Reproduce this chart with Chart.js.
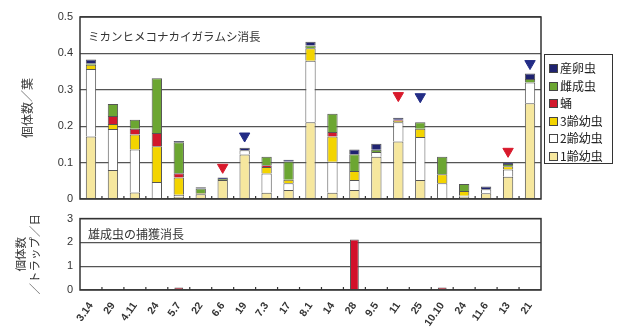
<!DOCTYPE html>
<html>
<head>
<meta charset="utf-8">
<script src="https://cdn.jsdelivr.net/npm/chart.js@4.4.0/dist/chart.umd.min.js"></script>
<style>
  body { margin: 0; background: #fff; }
  #wrap { position: relative; width: 617px; height: 328px; }
  #top { position: absolute; left: 0; top: 0; }
  #bottom { position: absolute; left: 0; top: 205px; }
  #legend {
    position: absolute; left: 544px; top: 54px; width: 69px; height: 110px;
    border: 1px solid #333; box-sizing: border-box; padding: 4px 0 0 4px;
    font: 12px "Noto Sans CJK JP", sans-serif; color: #222;
  }
  #legend div { height: 17.5px; line-height: 17.5px; white-space: nowrap; }
  #legend span {
    display: inline-block; width: 7px; height: 7px; border: 1px solid #444;
    margin-right: 2px; vertical-align: 0px;
  }
</style>
</head>
<body>
<div id="wrap">
  <canvas id="top" width="617" height="214"></canvas>
  <canvas id="bottom" width="617" height="123"></canvas>
  <div id="legend"></div>
</div>
<script>
// survey dates
let dates = ["3.14", "29", "4.11", "24", "5.7", "22", "6.6", "19", "7.3", "17", "8.1",
             "14", "28", "9.5", "11", "25", "10.10", "24", "11.6", "13", "21"];

// individuals per leaf, by stage
let instar1 = [0.172, 0.08, 0.018, 0, 0.006, 0.013, 0.052, 0.122, 0.017, 0.025, 0.211,
               0.017, 0.025, 0.116, 0.158, 0.052, 0.003, 0.006, 0.016, 0.061, 0.263];
let instar2 = [0.185, 0.112, 0.118, 0.047, 0.006, 0, 0, 0.012, 0.053, 0.018, 0.169,
               0.085, 0.027, 0.013, 0.053, 0.118, 0.04, 0.003, 0.011, 0.02, 0.057];
let instar3 = [0.012, 0.014, 0.041, 0.098, 0.047, 0.003, 0, 0, 0.018, 0.01, 0.034,
               0.07, 0.025, 0, 0.004, 0.023, 0.025, 0.013, 0, 0.009, 0];
let pupa = [0, 0.022, 0.016, 0.036, 0.012, 0, 0, 0, 0.005, 0, 0,
            0.012, 0, 0, 0.003, 0, 0, 0, 0, 0, 0];
let female = [0.004, 0.033, 0.025, 0.151, 0.085, 0.013, 0.003, 0, 0.023, 0.05, 0.008,
              0.05, 0.046, 0.006, 0, 0.018, 0.048, 0.019, 0, 0.006, 0.01];
let laying = [0.01, 0, 0, 0, 0.003, 0.003, 0.004, 0.007, 0, 0.005, 0.01,
              0, 0.013, 0.017, 0.005, 0, 0, 0, 0.007, 0.005, 0.015];

// triangle markers
let redMarks = [null, null, null, null, null, null, 0.087, null, null, null, null,
                null, null, null, 0.284, null, null, null, null, 0.131, null];
let blueMarks = [null, null, null, null, null, null, null, 0.173, null, null, null,
                 null, null, null, null, 0.281, null, null, null, null, 0.372];

// males per trap per day
let maleTrap = [0, 0, 0, 0, 0.1, 0, 0, 0, 0, 0, 0,
                0, 2.12, 0, 0, 0, 0.1, 0, 0, 0, 0];

let topTicks = [0, 0.1, 0.2, 0.3, 0.4, 0.5];
let bottomTicks = [0, 1, 2, 3];

const numFont = { family: '"Liberation Sans", Arial, sans-serif', size: 11 };
const jpFont = { family: '"Noto Sans CJK JP", sans-serif', size: 12 };

// frame, inward ticks and the caption inside the plot
const frame = {
  id: 'frame',
  afterDraw(chart, args, opts) {
    const { ctx, chartArea: a } = chart;
    const x = chart.scales.x;
    ctx.save();
    ctx.strokeStyle = '#333';
    ctx.lineWidth = 1.5;
    ctx.strokeRect(a.left, a.top, a.right - a.left, a.bottom - a.top);
    ctx.lineWidth = 1.2;
    ctx.beginPath();
    for (let i = 1; i < dates.length; i++) {
      const px = (x.getPixelForValue(i - 1) + x.getPixelForValue(i)) / 2;
      ctx.moveTo(px, a.bottom);
      ctx.lineTo(px, a.bottom - 3);
    }
    ctx.stroke();
    ctx.fillStyle = '#333';
    ctx.font = opts.font;
    ctx.textBaseline = 'middle';
    ctx.fillText(opts.text, a.left + 8, a.top + opts.dy);
    ctx.restore();
  }
};

function seg(label, data, color) {
  return {
    label: label,
    data: data,
    backgroundColor: color,
    borderColor: '#555',
    borderWidth: 1,
    barPercentage: 0.47,
    categoryPercentage: 1,
    stack: 'bugs'
  };
}

let stages = [
  seg('1齢幼虫', instar1, '#F6E79E'),
  seg('2齢幼虫', instar2, '#FFFFFF'),
  seg('3齢幼虫', instar3, '#F3D400'),
  seg('蛹', pupa, '#D2182C'),
  seg('雌成虫', female, '#6CA632'),
  seg('産卵虫', laying, '#1F2370')
];

function marks(data, color, key) {
  return {
    type: 'line',
    data: data,
    showLine: false,
    pointStyle: 'triangle',
    rotation: 180,
    pointRadius: 6,
    pointBackgroundColor: color,
    pointBorderColor: color,
    stack: key
  };
}

let topChart = new Chart(document.getElementById('top'), {
  type: 'bar',
  data: {
    labels: dates,
    datasets: stages.concat([
      marks(redMarks, '#D8192B', 'red'),
      marks(blueMarks, '#232C86', 'blue')
    ])
  },
  options: {
    responsive: false,
    animation: false,
    layout: { padding: { top: 17, right: 76, left: 0, bottom: 0 } },
    plugins: {
      legend: { display: false },
      tooltip: { enabled: false },
      frame: { text: 'ミカンヒメコナカイガラムシ消長', dy: 20, font: '11.5px "Noto Sans CJK JP", sans-serif' }
    },
    scales: {
      x: {
        stacked: true,
        ticks: { display: false },
        grid: { display: false },
        border: { display: false },
        afterFit: (s) => { s.height = 15; }
      },
      y: {
        stacked: true,
        min: 0,
        max: 0.5,
        afterBuildTicks: (s) => { s.ticks = topTicks.map(v => ({ value: v })); },
        ticks: { font: numFont, color: '#333', padding: 7 },
        grid: { color: '#555', lineWidth: 1.3, drawTicks: false },
        border: { display: false },
        title: { display: true, text: '個体数／葉', font: jpFont, color: '#333', padding: { top: 20, bottom: 0 } },
        afterFit: (s) => { s.width = 80; }
      }
    }
  },
  plugins: [frame]
});

let bottomChart = new Chart(document.getElementById('bottom'), {
  type: 'bar',
  data: {
    labels: dates,
    datasets: [{
      label: '雄成虫',
      data: maleTrap,
      backgroundColor: '#D2102A',
      borderColor: '#555',
      borderWidth: 1,
      barPercentage: 0.4,
      categoryPercentage: 1
    }]
  },
  options: {
    responsive: false,
    animation: false,
    layout: { padding: { top: 12, right: 76, left: 0, bottom: 0 } },
    plugins: {
      legend: { display: false },
      tooltip: { enabled: false },
      frame: { text: '雄成虫の捕獲消長', dy: 16, font: '12px "Noto Sans CJK JP", sans-serif' }
    },
    scales: {
      x: {
        ticks: {
          font: { family: '"Liberation Sans", Arial, sans-serif', size: 10.5, weight: 'bold' },
          color: '#333', minRotation: 55, maxRotation: 55, autoSkip: false, padding: 2
        },
        grid: { display: false },
        border: { display: false },
        afterFit: (s) => { s.height = 38; }
      },
      y: {
        min: 0,
        max: 3,
        afterBuildTicks: (s) => { s.ticks = bottomTicks.map(v => ({ value: v })); },
        ticks: { font: numFont, color: '#333', padding: 7 },
        grid: { color: '#555', lineWidth: 1.3, drawTicks: false },
        border: { display: false },
        title: { display: true, text: ['個体数', '／トラップ／日'], font: { family: jpFont.family, size: 11.5 }, color: '#333', padding: { top: 14, bottom: 0 } },
        afterFit: (s) => { s.width = 80; }
      }
    }
  },
  plugins: [frame]
});

// legend in the same order as the reference (top stage first)
let legend = document.getElementById('legend');
stages.slice().reverse().forEach(ds => {
  let row = document.createElement('div');
  let box = document.createElement('span');
  box.style.background = ds.backgroundColor;
  row.appendChild(box);
  row.appendChild(document.createTextNode(ds.label));
  legend.appendChild(row);
});
</script>
</body>
</html>
